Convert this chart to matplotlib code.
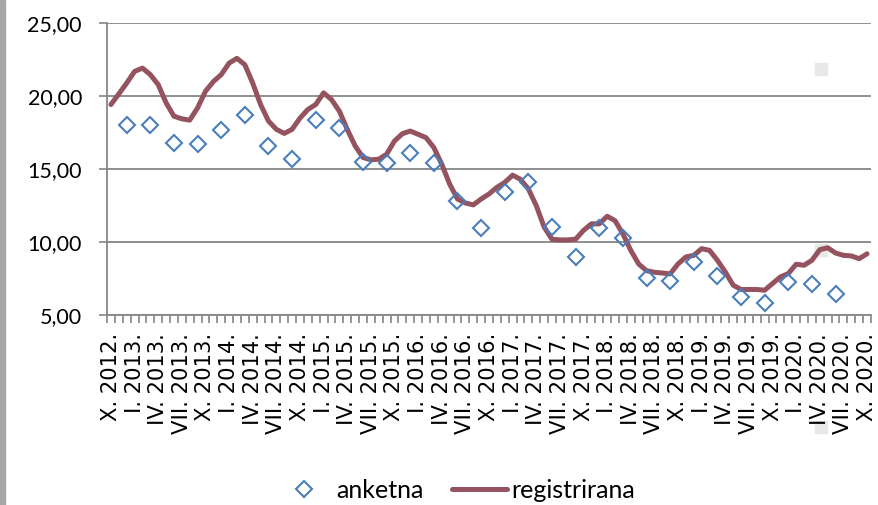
import numpy as np
import matplotlib.pyplot as plt
from matplotlib.patches import Rectangle

#### data ####

# quarterly labels, X.2012 .. X.2020
tick_labels = ["X. 2012.", "I. 2013.", "IV. 2013.", "VII. 2013.", "X. 2013.",
               "I. 2014.", "IV. 2014.", "VII. 2014.", "X. 2014.",
               "I. 2015.", "IV. 2015.", "VII. 2015.", "X. 2015.",
               "I. 2016.", "IV. 2016.", "VII. 2016.", "X. 2016.",
               "I. 2017.", "IV. 2017.", "VII. 2017.", "X. 2017.",
               "I. 2018.", "IV. 2018.", "VII. 2018.", "X. 2018.",
               "I. 2019.", "IV. 2019.", "VII. 2019.", "X. 2019.",
               "I. 2020.", "IV. 2020.", "VII. 2020.", "X. 2020."]

# monthly registered rate, X.2012 .. X.2020
registrirana = [19.43, 20.16, 20.9, 21.7, 21.93, 21.48, 20.8, 19.55, 18.63, 18.45,
                18.36, 19.2, 20.34, 21.0, 21.48, 22.27, 22.6, 22.16, 20.9, 19.43,
                18.3, 17.73, 17.45, 17.73, 18.5,
                19.09, 19.43, 20.23, 19.77, 18.98, 17.73, 16.6, 15.8, 15.64, 15.68,
                16.02, 16.93, 17.43, 17.61, 17.39, 17.16, 16.48, 15.34, 13.98, 12.95,
                12.68, 12.55, 12.95,
                13.3, 13.75, 14.09, 14.59, 14.3, 13.64, 12.5, 11.03, 10.19, 10.15,
                10.15, 10.2, 10.8, 11.25, 11.25, 11.77, 11.47, 10.56, 9.43, 8.5,
                8.04, 7.93, 7.88, 7.82,
                8.5, 8.98, 9.09, 9.55, 9.43, 8.75, 7.95, 7.04, 6.75, 6.75,
                6.75, 6.7, 7.16, 7.61, 7.84, 8.48, 8.41, 8.75, 9.48, 9.61,
                9.25, 9.09, 9.05, 8.86, 9.2]

# survey rate, quarterly (XII.2012 .. VI.2020)
anketna = [18.0, 18.0, 16.8, 16.7, 17.65, 18.7, 16.6, 15.7, 18.35, 17.8,
           15.5, 15.4, 16.1, 15.4, 12.85, 10.95, 13.45, 14.15, 11.05, 9.0,
           10.95, 10.3, 7.55, 7.3, 8.65, 7.7, 6.2, 5.8, 7.25, 7.1, 6.45]

#### plot ####

months = np.arange(len(registrirana))
survey_months = 2 + 3 * np.arange(len(anketna))

fig = plt.figure(figsize=(8.79, 5.05), dpi=100)
ax = fig.add_axes([107/879, 1-315/505, (871-107)/879, (315-23.3)/505])
ax.patch.set_alpha(0)

grid_c = "#868686"
line_c = "#94535E"
dia_c = "#4A7EBB"

ax.plot(months, registrirana, color=line_c, lw=3.6, solid_joinstyle="round",
        solid_capstyle="round", label="registrirana", zorder=3)
ax.plot(survey_months, anketna, ls="none", marker="D", ms=8.3, mfc="none",
        mec=dia_c, mew=1.5, label="anketna", zorder=4)

ax.set_xlim(-0.5, len(registrirana) - 0.5)
ax.set_ylim(5, 25)
ax.set_yticks([5, 10, 15, 20, 25])
ax.set_yticklabels(["5,00", "10,00", "15,00", "20,00", "25,00"],
                   family="Lato", fontsize=15.5)
ax.yaxis.grid(True, color=grid_c, lw=1.3)
ax.set_axisbelow(True)

ax.set_xticks(np.arange(0, len(registrirana), 3))
ax.set_xticklabels(tick_labels, rotation=90, fontsize=15.2, family="DejaVu Sans",
                   va="top", ha="center")
ax.set_xticks(np.arange(-0.5, len(registrirana)), minor=True)
ax.tick_params(axis="x", which="major", length=0, pad=13)
ax.tick_params(axis="x", which="minor", length=6, width=1.2, color=grid_c)
ax.tick_params(axis="y", length=6, width=1.2, color=grid_c, pad=12)

for s in ["top", "right"]:
    ax.spines[s].set_visible(False)
for s in ["left", "bottom"]:
    ax.spines[s].set_color(grid_c)
    ax.spines[s].set_linewidth(1.3)

h, l = ax.get_legend_handles_labels()
leg = fig.legend(h[::-1], l[::-1], loc="center", bbox_to_anchor=(456/879, 1-490/505),
                 ncol=2, frameon=False, prop={"family": "Lato", "size": 18},
                 handlelength=2.2, handletextpad=0.2, columnspacing=1.1,
                 borderpad=0, borderaxespad=0)

# window edge and selection handles of the screenshot
fig.patches.append(Rectangle((0, 0), 5/879, 1, transform=fig.transFigure,
                             color="#A6A6A6", zorder=-1))
for yy in [69, 250, 427]:
    fig.patches.append(Rectangle((815/879, 1-(yy+6)/505), 12/879, 12/505,
                                 transform=fig.transFigure, color="#E8E8E8", zorder=-1))

fig.savefig("out.png", dpi=100)
